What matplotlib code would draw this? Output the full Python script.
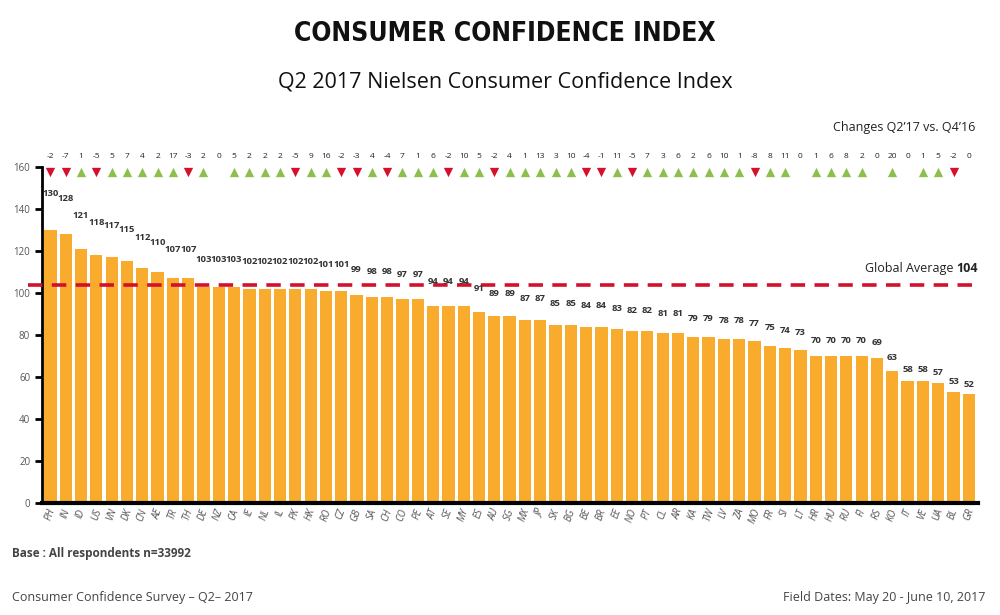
import numpy as np
import matplotlib
matplotlib.use('Agg')
import matplotlib.pyplot as plt

# Market codes, index values and change vs Q4'16
countries = ['PH', 'IN', 'ID', 'US', 'VN', 'DK', 'CN', 'AE', 'TR', 'TH', 'DE', 'NZ', 'CA', 'IE', 'NL',
             'IL', 'PK', 'HK', 'RO', 'CZ', 'GB', 'SA', 'CH', 'CO', 'PE', 'AT', 'SE', 'MY', 'ES', 'AU',
             'SG', 'MX', 'JP', 'SK', 'BG', 'BE', 'BR', 'EE', 'NO', 'PT', 'CL', 'AR', 'KA', 'TW', 'LV',
             'ZA', 'MO', 'FR', 'SI', 'LT', 'HR', 'HU', 'RU', 'FI', 'RS', 'KO', 'IT', 'VE', 'UA', 'BL', 'GR']
index_values = [130, 128, 121, 118, 117, 115, 112, 110, 107, 107, 103, 103, 103, 102, 102,
                102, 102, 102, 101, 101, 99, 98, 98, 97, 97, 94, 94, 94, 91, 89,
                89, 87, 87, 85, 85, 84, 84, 83, 82, 82, 81, 81, 79, 79, 78,
                78, 77, 75, 74, 73, 70, 70, 70, 70, 69, 63, 58, 58, 57, 53, 52]
changes = [-2, -7, 1, -5, 5, 7, 4, 2, 17, -3, 2, 0, 5, 2, 2,
           2, -5, 9, 16, -2, -3, 4, -4, 7, 1, 6, -2, 10, 5, -2,
           4, 1, 13, 3, 10, -4, -1, 11, -5, 7, 3, 6, 2, 6, 10,
           1, -8, 8, 11, 0, 1, 6, 8, 2, 0, 20, 0, 1, 5, -2, 0]
global_average = 104

bar_color = '#F9AB2D'
red = '#D4112C'
green = '#8CBF4B'

plt.rcParams['font.family'] = ['Open Sans', 'DejaVu Sans']

fig = plt.figure(figsize=(10, 6.15), dpi=100)
ax = fig.add_axes([0.042, 0.182, 0.936, 0.5465])

x = np.arange(len(countries))
ax.bar(x, index_values, width=0.8, color=bar_color, zorder=2)

# value labels (Excel-style, higher offset for taller bars)
for i, v in enumerate(index_values):
    off = (5 + 0.35 * (v - 52)) / 2.1
    ax.text(i, v + off, str(v), ha='center', va='bottom', fontsize=6.8,
            fontweight='bold', color='#333333', zorder=4)

# global average
ax.axhline(global_average, xmin=-0.015, xmax=1, color=red, lw=2.6,
           dashes=(4, 2.6), clip_on=False, zorder=3)
avg_num = ax.text(60.6, global_average + 4.5, str(global_average), ha='right', va='bottom',
                  fontsize=9, fontweight='bold', color='#222222')
ax.annotate('Global Average ', xy=(0, 0), xycoords=avg_num,
            ha='right', va='bottom', fontsize=9, color='#222222')

# change row
for i, c in enumerate(changes):
    ax.text(i, 165, str(c), ha='center', va='center', fontsize=6, color='#222222', clip_on=False)
    if c > 0:
        ax.scatter(i, 157.6, marker='^', s=45, color=green, clip_on=False, zorder=5, linewidths=0)
    elif c < 0:
        ax.scatter(i, 157.6, marker='v', s=45, color=red, clip_on=False, zorder=5, linewidths=0)

ax.set_xlim(-0.55, 60.6)
ax.set_ylim(0, 160)
ax.set_yticks(range(0, 161, 20))
ax.tick_params(axis='y', labelsize=7, labelcolor='#555555', length=5, width=2, direction='out')
ax.set_xticks(x)
ax.set_xticklabels(countries, rotation=70, fontsize=7, color='#555555', style='italic')
ax.tick_params(axis='x', length=0, pad=3)
for s in ['top', 'right']:
    ax.spines[s].set_visible(False)
ax.spines['left'].set_linewidth(2)
ax.spines['bottom'].set_linewidth(3)

fig.text(0.505, 0.945, 'CONSUMER CONFIDENCE INDEX', ha='center', va='center',
         fontsize=19, fontweight='bold', fontstretch='condensed',
         family=['DejaVu Sans'], color='#111111')
fig.text(0.505, 0.866, 'Q2 2017 Nielsen Consumer Confidence Index', ha='center', va='center',
         fontsize=15.5, color='#111111')
fig.text(0.975, 0.792, 'Changes Q2\u201917 vs. Q4\u201916', ha='right', va='center',
         fontsize=9, color='#222222')
fig.text(0.012, 0.1, 'Base : All respondents n=33992', ha='left', va='center',
         fontsize=8.5, fontweight='bold', color='#444444')
fig.text(0.012, 0.029, 'Consumer Confidence Survey \u2013 Q2\u2013 2017', ha='left', va='center',
         fontsize=9, color='#444444')
fig.text(0.985, 0.029, 'Field Dates: May 20 - June 10, 2017', ha='right', va='center',
         fontsize=9, color='#444444')

fig.savefig('out.png', dpi=100)
